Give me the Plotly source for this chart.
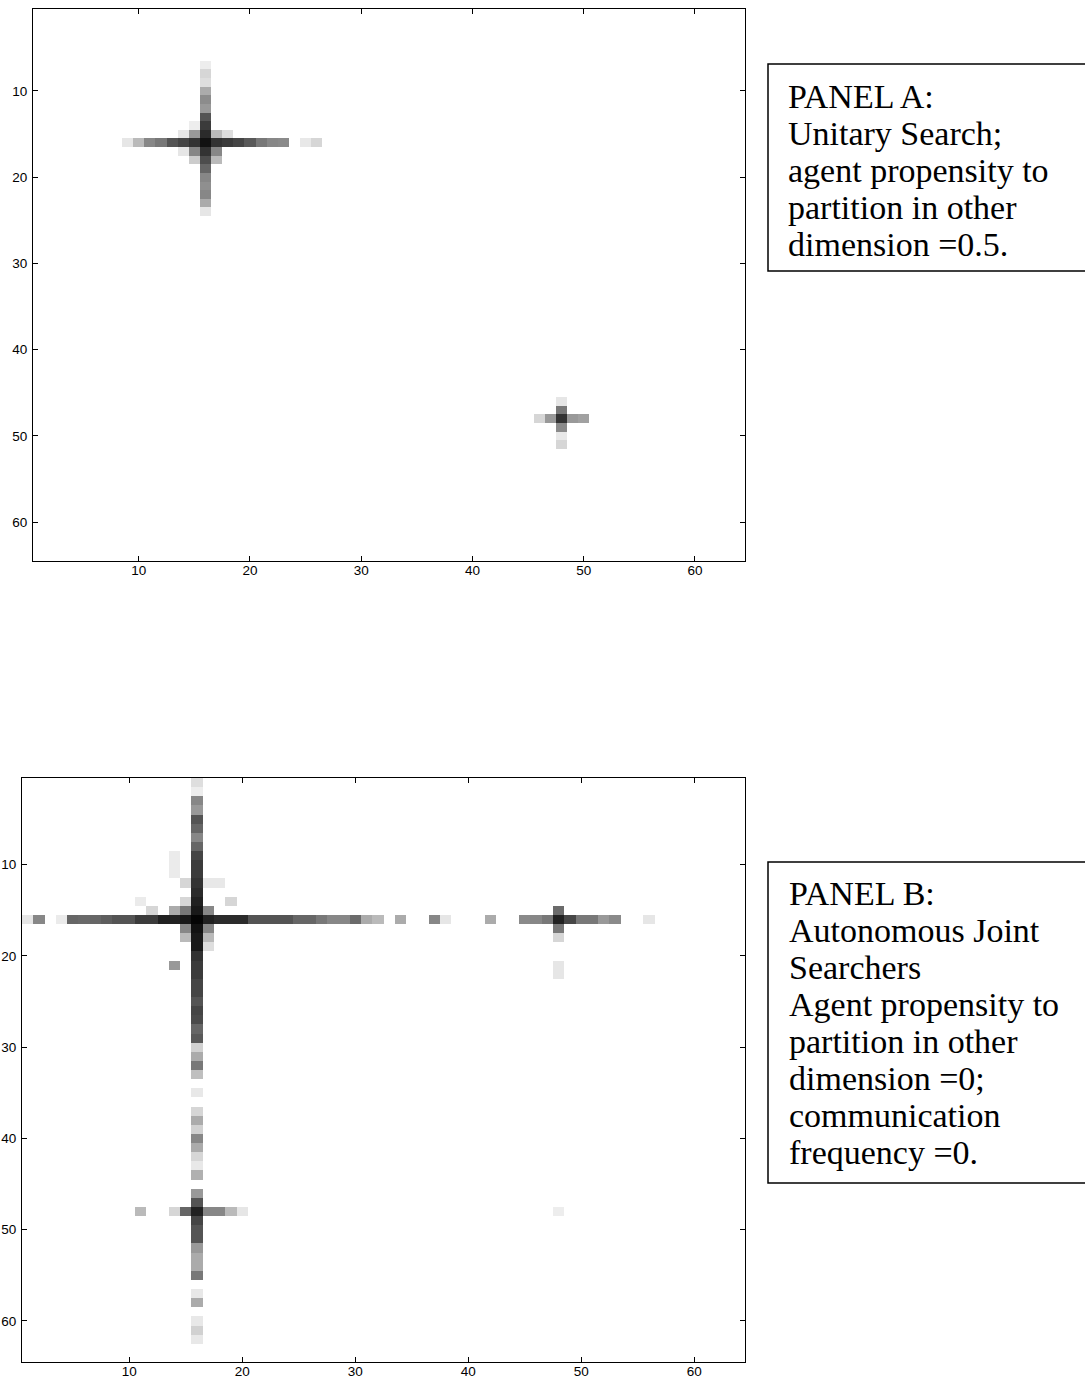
import numpy as np
import plotly.graph_objects as go

N = 64
TICKS = [10, 20, 30, 40, 50, 60]

# ---------------- Panel A data (darkness 0..1) ----------------
A_H1_ROW = 16
A_H1_COLS = [9, 10, 11, 12, 13, 14, 15, 16, 17, 18, 19, 20, 21, 22, 23, 25, 26]
A_H1_VALS = [0.10, 0.27, 0.47, 0.53, 0.67, 0.73, 0.80, 0.93, 0.80, 0.77, 0.73, 0.65, 0.53, 0.47, 0.46, 0.09, 0.16]
A_V1_COL = 16
A_V1_ROWS = [7, 8, 9, 10, 11, 12, 13, 14, 15, 17, 18, 19, 20, 21, 22, 23, 24]
A_V1_VALS = [0.07, 0.16, 0.13, 0.33, 0.45, 0.40, 0.67, 0.77, 0.83, 0.80, 0.70, 0.60, 0.47, 0.44, 0.47, 0.33, 0.10]
A_X_ROWS = [14, 15, 15, 15, 15, 17, 17, 17, 18, 18]
A_X_COLS = [15, 14, 15, 17, 18, 14, 15, 17, 15, 17]
A_X_VALS = [0.07, 0.10, 0.40, 0.27, 0.13, 0.10, 0.47, 0.47, 0.20, 0.27]
A_H2_ROW = 48
A_H2_COLS = [46, 47, 48, 49, 50]
A_H2_VALS = [0.16, 0.40, 0.80, 0.40, 0.37]
A_V2_COL = 48
A_V2_ROWS = [46, 47, 49, 50, 51]
A_V2_VALS = [0.10, 0.53, 0.46, 0.09, 0.16]

# ---------------- Panel B data ----------------
B_H1_ROW = 16
B_H1_COLS = [1, 2, 4, 5, 6, 7, 8, 9, 10, 11, 12, 13, 14, 15, 16, 17, 18, 19, 20,
             21, 22, 23, 24, 25, 26, 27, 28, 29, 30, 31, 32, 34, 37, 38, 42,
             45, 46, 47, 48, 49, 50, 51, 52, 53, 56]
B_H1_VALS = [0.10, 0.47, 0.08, 0.60, 0.59, 0.60, 0.63, 0.67, 0.67, 0.77, 0.77, 0.87, 0.87, 0.90, 0.98, 0.87, 0.83, 0.83, 0.83,
             0.67, 0.67, 0.67, 0.67, 0.60, 0.60, 0.53, 0.47, 0.47, 0.58, 0.33, 0.27, 0.33, 0.47, 0.10, 0.33,
             0.46, 0.47, 0.53, 0.87, 0.72, 0.53, 0.53, 0.40, 0.46, 0.10]
B_V1_COL = 16
B_V1_ROWS = [1, 2, 3, 4, 5, 6, 7, 8, 9, 10, 11, 12, 13, 14, 15, 17, 18, 19, 20,
             21, 22, 23, 24, 25, 26, 27, 28, 29, 30, 31, 32, 33, 35, 37, 38, 39, 40,
             41, 42, 43, 44, 46, 47, 49, 50, 51, 52, 53, 54, 55, 57, 58, 60, 61, 62]
B_V1_VALS = [0.13, 0.07, 0.47, 0.40, 0.67, 0.60, 0.47, 0.60, 0.73, 0.77, 0.77, 0.80, 0.83, 0.87, 0.90, 0.93, 0.90, 0.90, 0.80,
             0.77, 0.77, 0.73, 0.73, 0.67, 0.73, 0.71, 0.60, 0.65, 0.18, 0.33, 0.53, 0.25, 0.09, 0.16, 0.33, 0.18, 0.47,
             0.33, 0.16, 0.09, 0.31, 0.40, 0.67, 0.73, 0.67, 0.67, 0.40, 0.33, 0.33, 0.53, 0.09, 0.33, 0.09, 0.18, 0.09]
B_H2_ROW = 48
B_H2_COLS = [11, 14, 15, 16, 17, 18, 19, 20, 48]
B_H2_VALS = [0.27, 0.16, 0.60, 0.87, 0.47, 0.47, 0.27, 0.10, 0.07]
B_V2_COL = 48
B_V2_ROWS = [15, 17, 18, 21, 22]
B_V2_VALS = [0.58, 0.53, 0.16, 0.10, 0.10]
B_X_ROWS = [9, 10, 11, 12, 12, 12, 14, 14, 14, 15, 15, 15, 15, 17, 17, 18, 18, 19, 21]
B_X_COLS = [14, 14, 14, 15, 17, 18, 11, 15, 19, 12, 14, 15, 17, 15, 17, 15, 17, 17, 14]
B_X_VALS = [0.08, 0.08, 0.08, 0.16, 0.09, 0.09, 0.08, 0.16, 0.16, 0.16, 0.33, 0.53, 0.47, 0.47, 0.47, 0.27, 0.27, 0.13, 0.40]

PANEL_A_TEXT = ["PANEL A:", "Unitary Search;", "agent propensity to",
                "partition in other", "dimension =0.5."]
PANEL_B_TEXT = ["PANEL B:", "Autonomous Joint", "Searchers", "Agent propensity to",
                "partition in other", "dimension =0;", "communication", "frequency =0."]


def build(hrow, hcols, hvals, vcol, vrows, vvals, h2row, h2cols, h2vals,
          v2col, v2rows, v2vals, xr, xc, xv):
    z = np.zeros((N, N))
    for c, v in zip(hcols, hvals):
        z[hrow - 1, c - 1] = v
    for r, v in zip(vrows, vvals):
        z[r - 1, vcol - 1] = v
    for c, v in zip(h2cols, h2vals):
        z[h2row - 1, c - 1] = v
    for r, v in zip(v2rows, v2vals):
        z[r - 1, v2col - 1] = v
    for r, c, v in zip(xr, xc, xv):
        z[r - 1, c - 1] = v
    return z


zA = build(A_H1_ROW, A_H1_COLS, A_H1_VALS, A_V1_COL, A_V1_ROWS, A_V1_VALS,
           A_H2_ROW, A_H2_COLS, A_H2_VALS, A_V2_COL, A_V2_ROWS, A_V2_VALS,
           A_X_ROWS, A_X_COLS, A_X_VALS)
zB = build(B_H1_ROW, B_H1_COLS, B_H1_VALS, B_V1_COL, B_V1_ROWS, B_V1_VALS,
           B_H2_ROW, B_H2_COLS, B_H2_VALS, B_V2_COL, B_V2_ROWS, B_V2_VALS,
           B_X_ROWS, B_X_COLS, B_X_VALS)

# body margin is removed below, so figure coordinates = page coordinates
W, H = 1085, 1380
idx = list(range(1, N + 1))
cscale = [[0, "#ffffff"], [1, "#000000"]]

fig = go.Figure()
fig.add_trace(go.Heatmap(z=zA, x=idx, y=idx, colorscale=cscale, zmin=0, zmax=1,
                         showscale=False, hoverinfo="skip", xaxis="x", yaxis="y"))
fig.add_trace(go.Heatmap(z=zB, x=idx, y=idx, colorscale=cscale, zmin=0, zmax=1,
                         showscale=False, hoverinfo="skip", xaxis="x2", yaxis="y2"))


def px(x):
    return x / W


def py(y):
    return 1 - y / H


axis_common = dict(tickvals=TICKS, ticks="inside", ticklen=5, tickwidth=1, tickcolor="black",
                   showline=True, linecolor="black", linewidth=1, mirror="ticks",
                   showgrid=False, zeroline=False, automargin=False,
                   tickfont=dict(family="Liberation Sans", size=13.5, color="black"))
xax = dict(ticklabelstandoff=-3, **axis_common)
yax = dict(ticklabelstandoff=2, **axis_common)

fig.update_layout(
    template="none",
    width=W, height=H, margin=dict(l=0, r=0, t=0, b=0, pad=0),
    paper_bgcolor="white", plot_bgcolor="white", showlegend=False,
    xaxis=dict(domain=[px(33), px(745)], range=[0.5, 64.5], anchor="y", **xax),
    yaxis=dict(domain=[py(561), py(9)], range=[64.5, 0.5], anchor="x", **yax),
    xaxis2=dict(domain=[px(22), px(745)], range=[0.5, 64.5], anchor="y2", **xax),
    yaxis2=dict(domain=[py(1362), py(778)], range=[64.5, 0.5], anchor="x2", **yax),
)

# text boxes
shapes = [
    dict(type="rect", xref="paper", yref="paper", x0=px(768), x1=px(1100), y0=py(271), y1=py(64),
         line=dict(color="black", width=1.5), fillcolor="rgba(0,0,0,0)"),
    dict(type="rect", xref="paper", yref="paper", x0=px(768), x1=px(1100), y0=py(1183), y1=py(862),
         line=dict(color="black", width=1.5), fillcolor="rgba(0,0,0,0)"),
]
fig.update_layout(shapes=shapes)

FS = 34
anns = []
for i, t in enumerate(PANEL_A_TEXT):
    base = 108 + 36.9 * i
    anns.append(dict(text=t, xref="paper", yref="paper", x=px(786), y=py(base - 11.5),
                     xanchor="left", yanchor="middle", showarrow=False,
                     font=dict(family="Liberation Serif", size=FS, color="black")))
for i, t in enumerate(PANEL_B_TEXT):
    base = 905 + 37.0 * i
    anns.append(dict(text=t, xref="paper", yref="paper", x=px(787), y=py(base - 11.5),
                     xanchor="left", yanchor="middle", showarrow=False,
                     font=dict(family="Liberation Serif", size=FS, color="black")))
fig.update_layout(annotations=anns)

fig.write_html("out.html", config={"displayModeBar": False},
               post_script="document.body.style.margin='0';document.body.style.overflow='hidden';")
